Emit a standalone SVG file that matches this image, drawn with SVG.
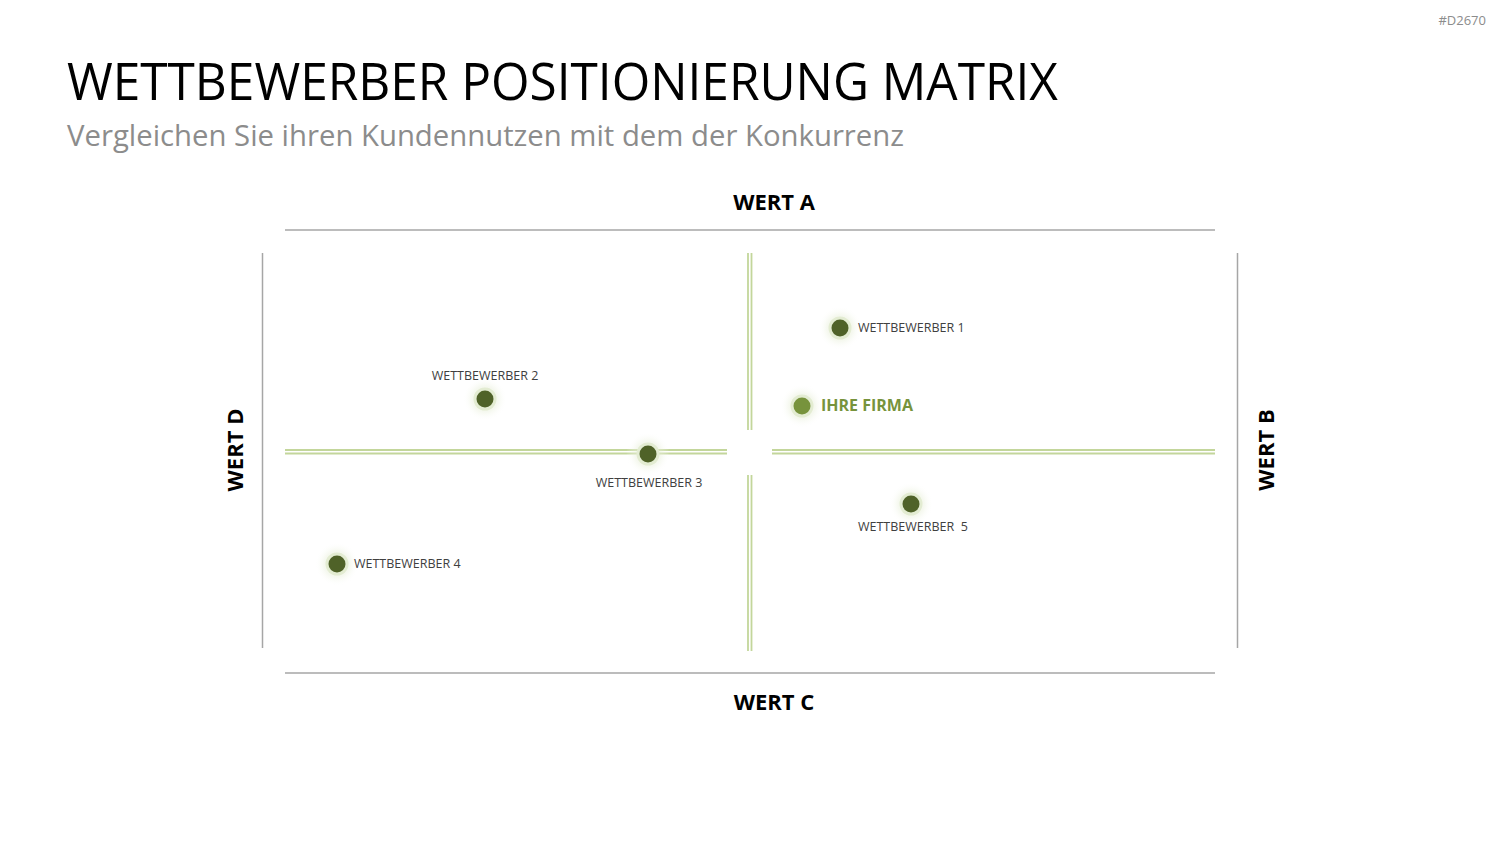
<svg xmlns="http://www.w3.org/2000/svg" width="1500" height="844" viewBox="0 0 1500 844">
<defs>
<radialGradient id="glow">
<stop offset="0" stop-color="#d7e4bd" stop-opacity="0.7"/>
<stop offset="0.6" stop-color="#ebf1de" stop-opacity="0.45"/>
<stop offset="1" stop-color="#ffffff" stop-opacity="0"/>
</radialGradient>
</defs>
<style>
text{font-family:"Open Sans","Liberation Sans",sans-serif}
.lbl{font-size:12.5px;fill:#404040}
.ax{font-size:22px;font-weight:bold;fill:#000}
.gray{stroke:#a6a6a6;stroke-width:1.5;fill:none}
.grn{stroke:#c3d69b;stroke-width:1.8;fill:none}
.halo{fill:#e3ecd2}
.dot{fill:#4f6228}
</style>
<rect width="1500" height="844" fill="#fff"/>
<text x="1486" y="25" text-anchor="end" style="font-size:13px;fill:#8c8c8c">#D2670</text>
<text x="67" y="100" textLength="991" lengthAdjust="spacingAndGlyphs" style="font-size:52px;fill:#000">WETTBEWERBER POSITIONIERUNG MATRIX</text>
<text x="67" y="146" textLength="837" lengthAdjust="spacingAndGlyphs" style="font-size:29px;fill:#8c8c8c">Vergleichen Sie ihren Kundennutzen mit dem der Konkurrenz</text>
<g id="connectors">
<line class="gray" x1="285" y1="230" x2="1215" y2="230"/>
<line class="gray" x1="285" y1="673" x2="1215" y2="673"/>
<line class="gray" x1="262.5" y1="253" x2="262.5" y2="648"/>
<line class="gray" x1="1237.5" y1="253" x2="1237.5" y2="648"/>
<g class="grn">
<line x1="285" y1="450" x2="727" y2="450"/><line x1="285" y1="453.5" x2="727" y2="453.5"/>
<line x1="772" y1="450" x2="1215" y2="450"/><line x1="772" y1="453.5" x2="1215" y2="453.5"/>
<line x1="748" y1="253" x2="748" y2="430"/><line x1="751.5" y1="253" x2="751.5" y2="430"/>
<line x1="748" y1="475" x2="748" y2="651"/><line x1="751.5" y1="475" x2="751.5" y2="651"/>
</g>
</g>
<g id="axis-a"><text class="ax" x="774" y="210" text-anchor="middle">WERT A</text></g>
<g id="axis-c"><text class="ax" x="774" y="710" text-anchor="middle">WERT C</text></g>
<g id="axis-d"><text class="ax" transform="translate(243,450) rotate(-90)" text-anchor="middle">WERT D</text></g>
<g id="axis-b"><text class="ax" transform="translate(1274,450) rotate(-90)" text-anchor="middle">WERT B</text></g>
<g id="w1"><circle cx="840" cy="328" r="22" fill="url(#glow)"/><circle class="halo" cx="840" cy="328" r="11.5"/><circle class="dot" cx="840" cy="328" r="8.5"/><text class="lbl" x="858" y="332">WETTBEWERBER 1</text></g>
<g id="ihre-firma"><circle cx="802" cy="406" r="22" fill="url(#glow)"/><circle class="halo" cx="802" cy="406" r="11.5"/><circle cx="802" cy="406" r="8.5" fill="#77933c"/><text x="821" y="411" style="font-size:16px;font-weight:bold;fill:#77933c">IHRE FIRMA</text></g>
<g id="w2"><circle cx="485" cy="399" r="22" fill="url(#glow)"/><circle class="halo" cx="485" cy="399" r="11.5"/><circle class="dot" cx="485" cy="399" r="8.5"/><text class="lbl" x="485" y="380" text-anchor="middle">WETTBEWERBER 2</text></g>
<g id="w3"><circle cx="648" cy="454" r="22" fill="url(#glow)"/><circle class="halo" cx="648" cy="454" r="11.5"/><circle class="dot" cx="648" cy="454" r="8.5"/><text class="lbl" x="649" y="487" text-anchor="middle">WETTBEWERBER 3</text></g>
<g id="w4"><circle cx="337" cy="564" r="22" fill="url(#glow)"/><circle class="halo" cx="337" cy="564" r="11.5"/><circle class="dot" cx="337" cy="564" r="8.5"/><text class="lbl" x="354" y="568">WETTBEWERBER 4</text></g>
<g id="w5"><circle cx="911" cy="504" r="22" fill="url(#glow)"/><circle class="halo" cx="911" cy="504" r="11.5"/><circle class="dot" cx="911" cy="504" r="8.5"/><text class="lbl" x="858" y="531" xml:space="preserve">WETTBEWERBER  5</text></g>
</svg>
